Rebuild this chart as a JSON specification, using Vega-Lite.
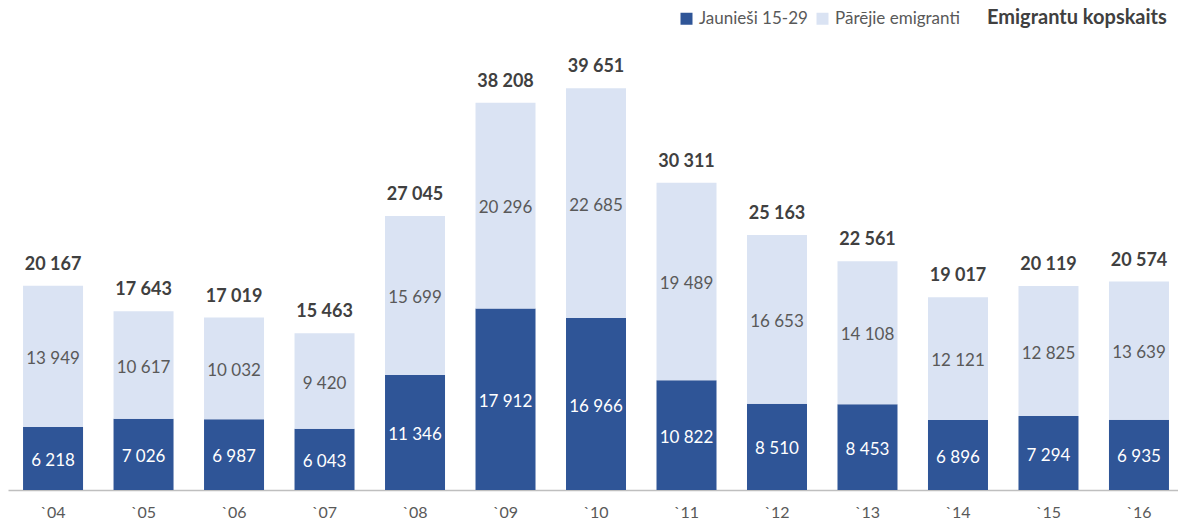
{
  "$schema": "https://vega.github.io/schema/vega-lite/v6.json",
  "width": 1170,
  "height": 450,
  "autosize": {"type": "none"},
  "padding": {"top": 40, "left": 8, "right": 0, "bottom": 38},
  "config": {
    "font": "Lato",
    "view": {"stroke": null},
    "locale": {"number": {"decimal": ",", "thousands": " ", "grouping": [3], "currency": ["", " €"]}}
  },
  "data": {
    "values": [
      {"year": "`04", "series": "Jaunieši 15-29", "value": 6218},
      {"year": "`04", "series": "Pārējie emigranti", "value": 13949},
      {"year": "`05", "series": "Jaunieši 15-29", "value": 7026},
      {"year": "`05", "series": "Pārējie emigranti", "value": 10617},
      {"year": "`06", "series": "Jaunieši 15-29", "value": 6987},
      {"year": "`06", "series": "Pārējie emigranti", "value": 10032},
      {"year": "`07", "series": "Jaunieši 15-29", "value": 6043},
      {"year": "`07", "series": "Pārējie emigranti", "value": 9420},
      {"year": "`08", "series": "Jaunieši 15-29", "value": 11346},
      {"year": "`08", "series": "Pārējie emigranti", "value": 15699},
      {"year": "`09", "series": "Jaunieši 15-29", "value": 17912},
      {"year": "`09", "series": "Pārējie emigranti", "value": 20296},
      {"year": "`10", "series": "Jaunieši 15-29", "value": 16966},
      {"year": "`10", "series": "Pārējie emigranti", "value": 22685},
      {"year": "`11", "series": "Jaunieši 15-29", "value": 10822},
      {"year": "`11", "series": "Pārējie emigranti", "value": 19489},
      {"year": "`12", "series": "Jaunieši 15-29", "value": 8510},
      {"year": "`12", "series": "Pārējie emigranti", "value": 16653},
      {"year": "`13", "series": "Jaunieši 15-29", "value": 8453},
      {"year": "`13", "series": "Pārējie emigranti", "value": 14108},
      {"year": "`14", "series": "Jaunieši 15-29", "value": 6896},
      {"year": "`14", "series": "Pārējie emigranti", "value": 12121},
      {"year": "`15", "series": "Jaunieši 15-29", "value": 7294},
      {"year": "`15", "series": "Pārējie emigranti", "value": 12825},
      {"year": "`16", "series": "Jaunieši 15-29", "value": 6935},
      {"year": "`16", "series": "Pārējie emigranti", "value": 13639}
    ]
  },
  "encoding": {
    "x": {
      "field": "year",
      "type": "nominal",
      "sort": null,
      "scale": {"paddingInner": 0.337, "paddingOuter": 0.133, "align": 0.625},
      "axis": {
        "title": null,
        "labelAngle": 0,
        "ticks": false,
        "domainColor": "#BFBFBF",
        "domainWidth": 1.5,
        "labelFontSize": 16,
        "labelColor": "#595959",
        "labelPadding": 14
      }
    }
  },
  "layer": [
    {
      "transform": [
        {"stack": "value", "groupby": ["year"], "sort": [{"field": "series"}], "as": ["y0", "y1"]}
      ],
      "mark": {"type": "bar"},
      "encoding": {
        "y": {"field": "y1", "type": "quantitative", "scale": {"domain": [0, 44405]}, "axis": null},
        "y2": {"field": "y0"},
        "color": {
          "field": "series",
          "type": "nominal",
          "scale": {
            "domain": ["Jaunieši 15-29", "Pārējie emigranti", "Emigrantu kopskaits"],
            "range": ["#2F5597", "#DAE3F3", "transparent"]
          },
          "legend": {
            "title": null,
            "orient": "none",
            "direction": "horizontal",
            "legendX": 670,
            "legendY": -31,
            "symbolType": "square",
            "symbolSize": 144,
            "symbolStrokeWidth": 0,
            "labelFontSize": 17,
            "labelLimit": 400,
            "labelColor": "#595959",
            "columnPadding": 6,
            "labelOffset": 4,
            "encode": {
              "labels": {
                "update": {
                  "fontWeight": {"signal": "datum.label === 'Emigrantu kopskaits' ? 'bold' : 'normal'"},
                  "fontSize": {"signal": "datum.label === 'Emigrantu kopskaits' ? 20 : 17"},
                  "fill": {"signal": "datum.label === 'Emigrantu kopskaits' ? '#404040' : '#595959'"}
                }
              }
            }
          }
        }
      }
    },
    {
      "transform": [
        {"stack": "value", "groupby": ["year"], "sort": [{"field": "series"}], "as": ["y0", "y1"]},
        {"fold": ["y0", "y1"], "as": ["k", "pos"]},
        {"aggregate": [{"op": "mean", "field": "pos", "as": "mid"}], "groupby": ["year", "series", "value"]}
      ],
      "mark": {"type": "text", "fontSize": 17, "baseline": "middle", "dy": 2.5},
      "encoding": {
        "y": {"field": "mid", "type": "quantitative", "scale": {"domain": [0, 44405]}, "axis": null},
        "text": {"field": "value", "type": "quantitative", "format": ",d"},
        "color": {
          "condition": {"test": "datum.series === 'Jaunieši 15-29'", "value": "#FFFFFF"},
          "value": "#595959"
        }
      }
    },
    {
      "transform": [
        {"aggregate": [{"op": "sum", "field": "value", "as": "total"}], "groupby": ["year"]}
      ],
      "mark": {"type": "text", "fontSize": 18, "fontWeight": "bold", "baseline": "alphabetic", "dy": -16, "color": "#404040"},
      "encoding": {
        "y": {"field": "total", "type": "quantitative", "scale": {"domain": [0, 44405]}, "axis": null},
        "text": {"field": "total", "type": "quantitative", "format": ",d"}
      }
    }
  ]
}
